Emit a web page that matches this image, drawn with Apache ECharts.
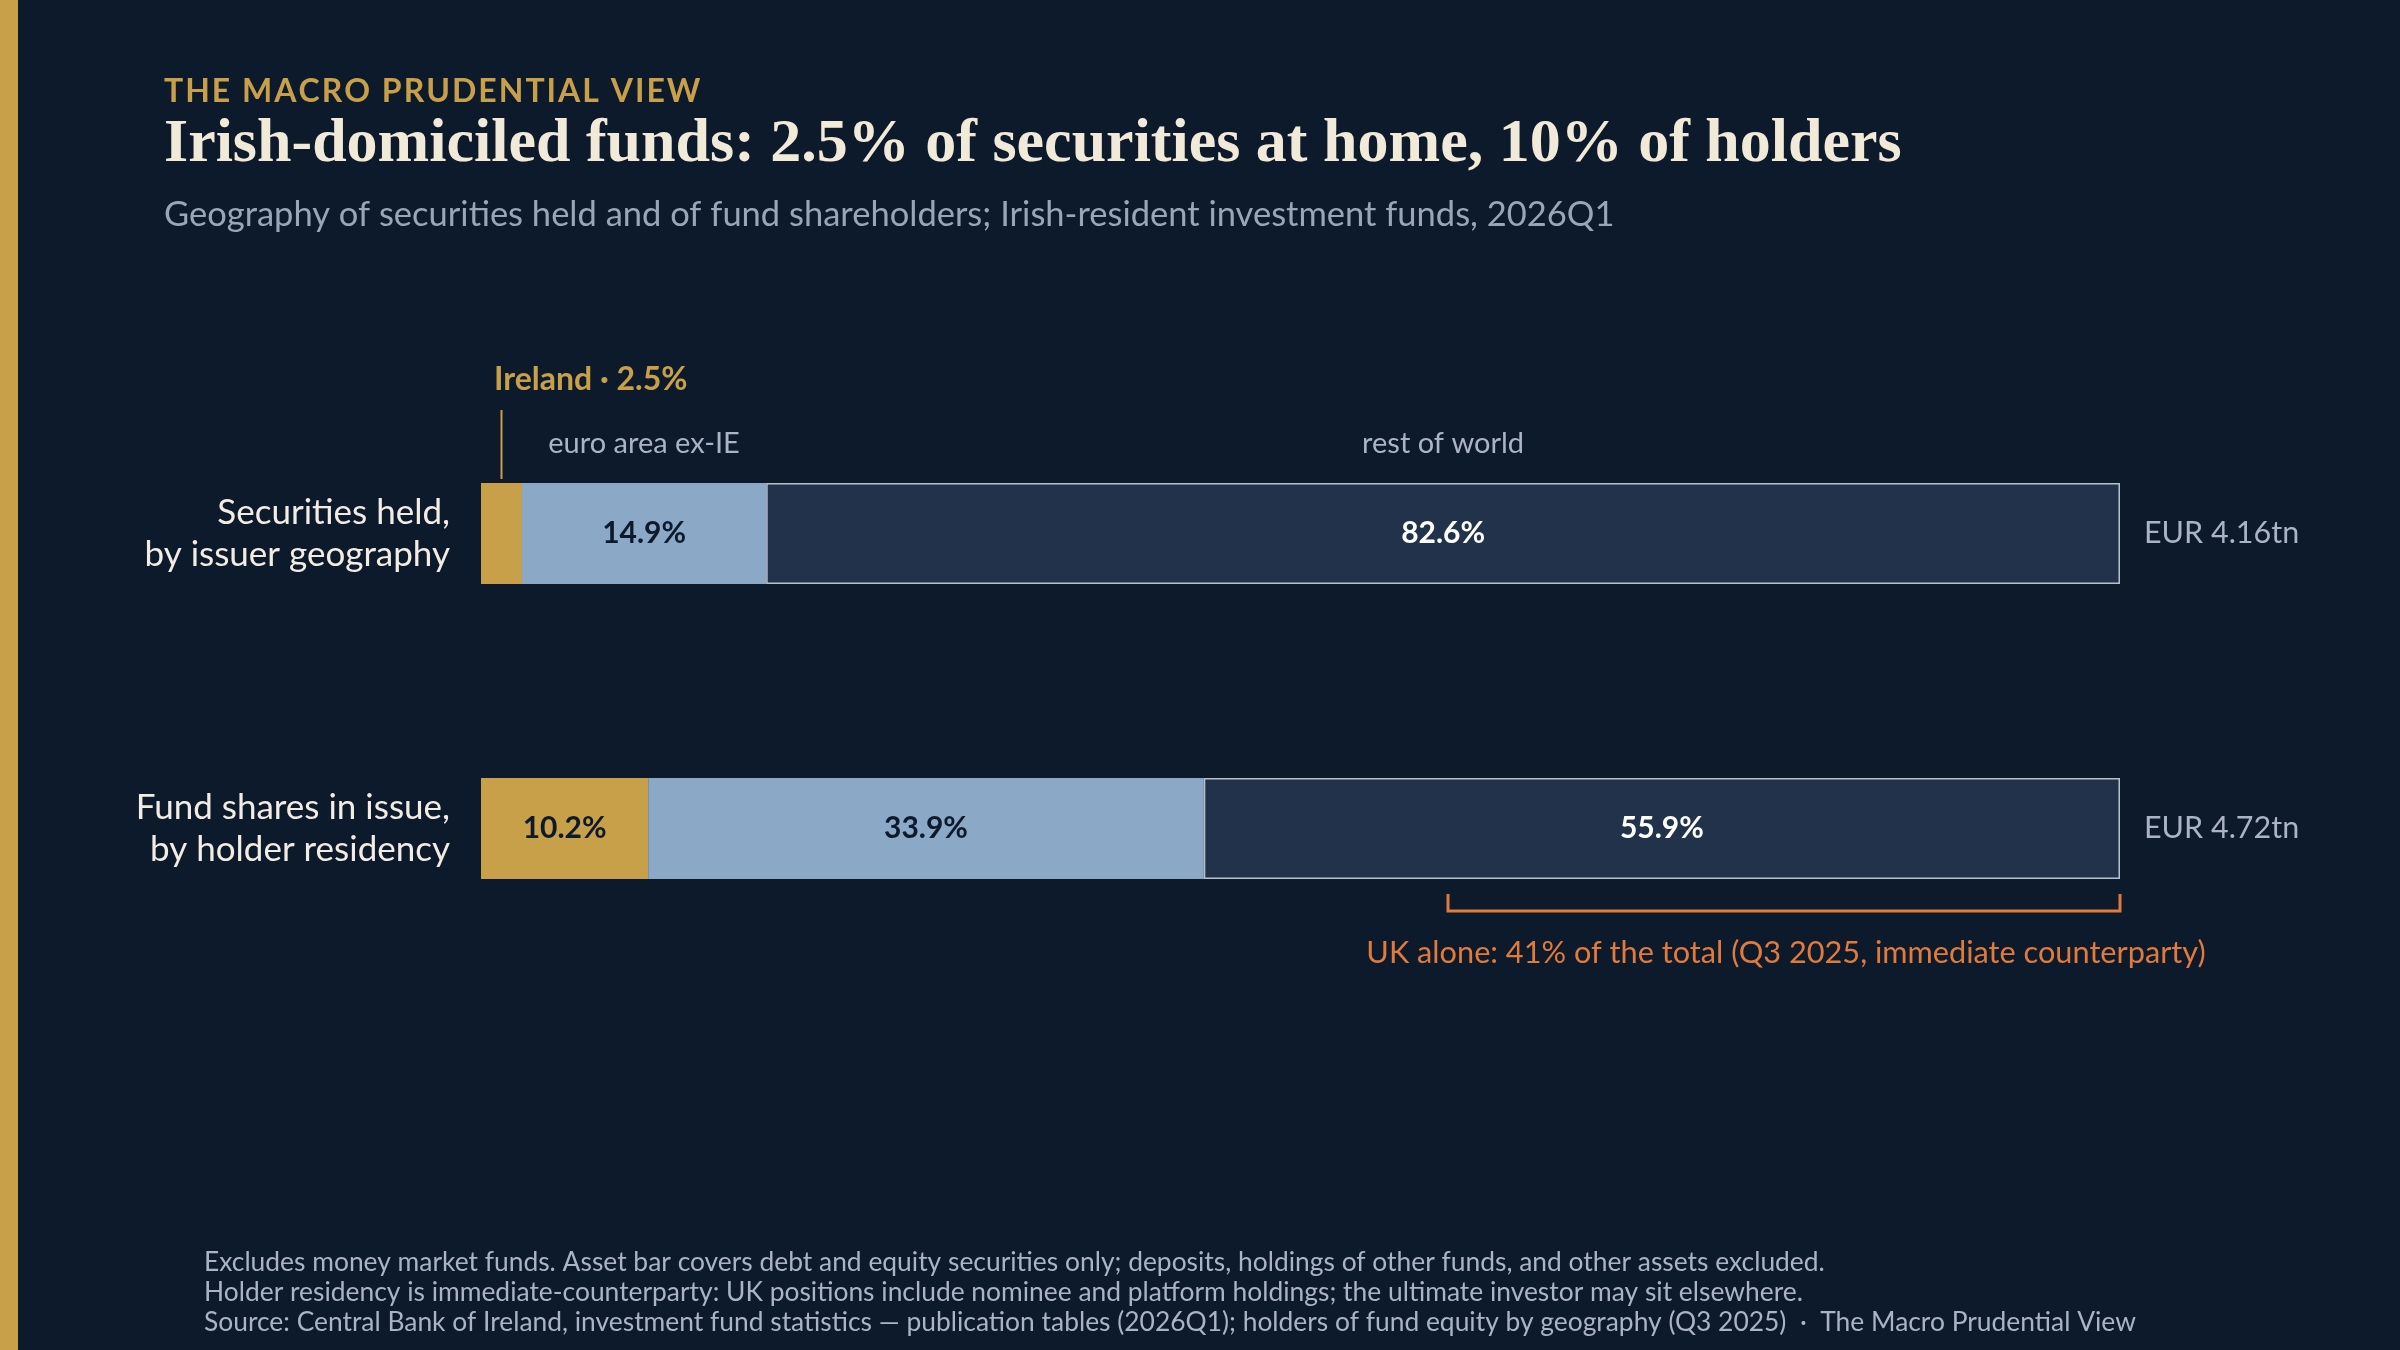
<!DOCTYPE html>
<html><head><meta charset="utf-8">
<script src="https://cdn.jsdelivr.net/npm/echarts@6/dist/echarts.min.js"></script>
<style>html,body{margin:0;padding:0;background:#0d1a2c;}#c{width:2400px;height:1350px;}</style>
</head><body><div id="c"></div>
<script>
const categories = ['Securities held,\nby issuer geography', 'Fund shares in issue,\nby holder residency'];
const ireland = [2.5, 10.2];
const euroArea = [14.9, 33.9];
const restOfWorld = [82.6, 55.9];
const totals = ['EUR 4.16tn', 'EUR 4.72tn'];
const ukShare = 41;

const F = 'Lato, "Noto Sans", sans-serif';
const chart = echarts.init(document.getElementById('c'));
function lbl(color, hideSmall){
  return {show:true, position:'inside', fontFamily:F, fontWeight:'bold', fontSize:30, color:color,
    formatter: p => (hideSmall && p.value < 5) ? '' : p.value.toFixed(1) + '%'};
}
const option = {
  backgroundColor:'#0d1a2c',
  animation:false,
  grid:{left:481, right:280, top:386, bottom:374},
  xAxis:{type:'value', min:0, max:100, show:false},
  yAxis:{type:'category', data:categories, inverse:true,
    axisLine:{show:false}, axisTick:{show:false},
    axisLabel:{fontFamily:F, fontSize:35, color:'#f2ede4', align:'right', margin:31, lineHeight:42}},
  series:[
    {name:'Ireland', type:'bar', stack:'s', barWidth:101, data:ireland,
      itemStyle:{color:'#c9a04a'}, label:lbl('#0d1a2c', true)},
    {name:'euro area ex-IE', type:'bar', stack:'s', data:euroArea,
      itemStyle:{color:'#8ba9c6'}, label:lbl('#0d1a2c', false)},
    {name:'rest of world', type:'bar', stack:'s', data:restOfWorld,
      itemStyle:{color:'#22324b', borderColor:'#b8c2cf', borderWidth:1.5}, label:lbl('#ffffff', false)}
  ]
};
chart.setOption(option);

const p = (x, i) => chart.convertToPixel({gridIndex:0}, [x, categories[i]]);
const r0 = p(0,0), r1 = p(0,1);
const irEnd = p(ireland[0],0)[0], euEnd = p(ireland[0]+euroArea[0],0)[0], end0 = p(100,0)[0];
const ukStart = p(100-ukShare,1)[0], end1 = p(100,1)[0];
const half = 50.5;
const kicker = 'THE MACRO PRUDENTIAL VIEW'.split('').join('\u200A');
const g = [
  {type:'rect', shape:{x:0,y:0,width:18,height:1350}, style:{fill:'#c9a04a'}},
  {type:'text', left:164, top:76, style:{text:kicker, font:'bold 32px '+F, fill:'#c9a04a'}},
  {type:'text', left:164, top:114, style:{text:'Irish-domiciled funds: 2.5% of securities at home, 10% of holders', font:'bold 62px "Liberation Serif", serif', fill:'#f2ead8'}},
  {type:'text', left:164, top:197, style:{text:'Geography of securities held and of fund shareholders; Irish-resident investment funds, 2026Q1', font:'34.5px '+F, fill:'#9aa6b6'}},
  {type:'text', x:r0[0]+13, y:380, style:{text:'Ireland · 2.5%', font:'bold 32px '+F, fill:'#c9a04a', verticalAlign:'middle'}},
  {type:'line', shape:{x1:(r0[0]+irEnd)/2, y1:410, x2:(r0[0]+irEnd)/2, y2:r0[1]-half-4}, style:{stroke:'#c9a04a', lineWidth:2}},
  {type:'text', x:(irEnd+euEnd)/2, y:444, style:{text:'euro area ex-IE', font:'29px '+F, fill:'#aab4c2', align:'center', verticalAlign:'middle'}},
  {type:'text', x:(euEnd+end0)/2, y:444, style:{text:'rest of world', font:'29px '+F, fill:'#aab4c2', align:'center', verticalAlign:'middle'}},
  {type:'text', x:end0+24, y:r0[1], style:{text:totals[0], font:'30.5px '+F, fill:'#aab4c2', verticalAlign:'middle'}},
  {type:'text', x:end1+24, y:r1[1], style:{text:totals[1], font:'30.5px '+F, fill:'#aab4c2', verticalAlign:'middle'}},
  {type:'polyline', shape:{points:[[ukStart,894],[ukStart,911],[end1,911],[end1,894]]}, style:{stroke:'#e07b3c', lineWidth:3, fill:null}},
  {type:'text', x:(ukStart+end1)/2 + 2, y:953, style:{text:'UK alone: 41% of the total (Q3 2025, immediate counterparty)', font:'30.7px '+F, fill:'#e07b3c', align:'center', verticalAlign:'middle'}},
  {type:'text', left:204, top:1247, style:{text:'Excludes money market funds. Asset bar covers debt and equity securities only; deposits, holdings of other funds, and other assets excluded.\nHolder residency is immediate-counterparty: UK positions include nominee and platform holdings; the ultimate investor may sit elsewhere.\nSource: Central Bank of Ireland, investment fund statistics — publication tables (2026Q1); holders of fund equity by geography (Q3 2025)  ·  The Macro Prudential View', font:'26.4px '+F, fill:'#aab4c2', lineHeight:30}}
];
chart.setOption({graphic:g});
</script></body></html>
